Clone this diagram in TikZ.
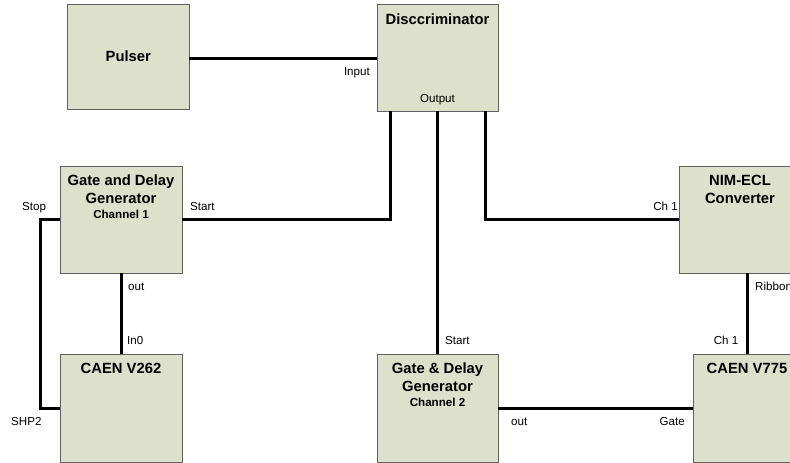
\documentclass[tikz,border=0pt]{standalone}
\usepackage{fontspec}
\setmainfont{Liberation Sans}
\definecolor{boxfill}{HTML}{DDE0CA}
\definecolor{boxline}{HTML}{606060}
\begin{document}
\begin{tikzpicture}[x=1pt,y=-1pt,
  unit/.style={draw=boxline,line width=1pt,fill=boxfill,inner sep=0pt,outer sep=0pt},
  wire/.style={line width=3pt,line cap=butt},
  ttl/.style={font=\fontsize{14.8}{18}\selectfont\bfseries,anchor=base,inner sep=0pt},
  chan/.style={font=\fontsize{11.6}{14}\selectfont\bfseries,anchor=base,inner sep=0pt},
  lbl/.style={font=\fontsize{11.6}{14}\selectfont,inner sep=0pt}]
\useasboundingbox (0,0) rectangle (790,463);
\begin{scope}
\clip (0,0) rectangle (790,463);
% boxes
\node[unit,minimum width=121.5pt,minimum height=105pt] (pulser) at (128.25,56.5) {};
\node[unit,minimum width=121pt,minimum height=107pt] (disc) at (437.5,57.5) {};
\node[unit,minimum width=122pt,minimum height=107pt] (gate1) at (121,219.5) {};
\node[unit,minimum width=122pt,minimum height=108pt] (v262) at (121,408) {};
\node[unit,minimum width=121pt,minimum height=108pt] (gate2) at (437.5,408) {};
\node[unit,minimum width=122pt,minimum height=107pt] (nim) at (740,219.5) {};
\node[unit,minimum width=108pt,minimum height=108pt] (v775) at (747,408) {};
% titles
\node[ttl] (tpulser) at (128.25,61) {Pulser};
\node[ttl] (tdisc) at (437.5,24) {Disccriminator};
\node[ttl] (tg1a) at (121,185.5) {Gate and Delay};
\node[ttl] (tg1b) at (121,203.5) {Generator};
\node[chan] (tg1c) at (121,218.5) {Channel 1};
\node[ttl] (tv262) at (121,373.5) {CAEN V262};
\node[ttl] (tg2a) at (437.5,373.5) {Gate \& Delay};
\node[ttl] (tg2b) at (437.5,391.5) {Generator};
\node[chan] (tg2c) at (437.5,406.5) {Channel 2};
\node[ttl] (tnima) at (740,185.5) {NIM-ECL};
\node[ttl] (tnimb) at (740,203.5) {Converter};
\node[ttl] (tv775) at (747,373.5) {CAEN V775};
% connection points
\coordinate (o1) at (390,111);
\coordinate (o3) at (485,111);
\coordinate (pin) at (377,58);
% wires
\draw[wire] (pulser.east |- pin) -- (pin);
\draw[wire] (gate1.east) -| (o1);
\draw[wire] (disc.south) -- (gate2.north);
\draw[wire] (o3) |- (nim.west);
\draw[wire] (gate1.west) -- ++(-20,0) |- (v262.west);
\draw[wire] (gate1.south) -- (v262.north);
\draw[wire] (v775.north) -- (v775.north |- nim.south);
\draw[wire] (gate2.east) -- (v775.west);
% labels
\node[lbl,anchor=base east] (lin) at (370,75) {Input};
\node[lbl,anchor=base] (lout) at (437.5,102) {Output};
\node[lbl,anchor=base west] (lstop) at (22,210) {Stop};
\node[lbl,anchor=base west] (lstart1) at (190,210) {Start};
\node[lbl,anchor=base west] (lout1) at (128,290) {out};
\node[lbl,anchor=base west] (lin0) at (127,344) {In0};
\node[lbl,anchor=base west] (lshp) at (11,425.5) {SHP2};
\node[lbl,anchor=base west] (lstart2) at (445,344) {Start};
\node[lbl,anchor=base east] (lch1a) at (678,210) {Ch 1};
\node[lbl,anchor=base west] (lrib) at (755,290) {Ribbon};
\node[lbl,anchor=base east] (lch1b) at (738.5,344) {Ch 1};
\node[lbl,anchor=base west] (lout2) at (511,425.5) {out};
\node[lbl,anchor=base east] (lgate) at (685,425.5) {Gate};
\end{scope}
\end{tikzpicture}
\end{document}
